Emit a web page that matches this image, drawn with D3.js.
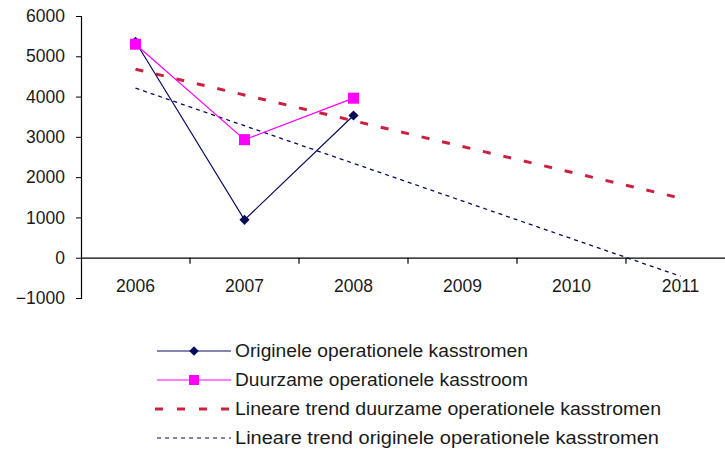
<!DOCTYPE html>
<html>
<head>
<meta charset="utf-8">
<script src="https://cdn.jsdelivr.net/npm/d3@7"></script>
<style>
  html, body { margin: 0; padding: 0; background: #fff; }
  svg { display: block; font-family: "Liberation Sans", Arial, sans-serif; }
</style>
</head>
<body>
<svg id="chart" width="725" height="462"></svg>
<script>
const categories = ["2006", "2007", "2008", "2009", "2010", "2011"];
const originele = [5360, 940, 3530];
const duurzame = [5300, 2930, 3960];
const trendDuurzame = [4680, 1480];   // at 2006 and 2011
const trendOriginele = [4210, -460];  // at 2006 and 2011
const yTicks = [-1000, 0, 1000, 2000, 3000, 4000, 5000, 6000];
const seriesNames = [
  "Originele operationele kasstromen",
  "Duurzame operationele kasstroom",
  "Lineare trend duurzame operationele kasstromen",
  "Lineare trend originele operationele kasstromen"
];

(function () {
const svg = d3.select("#chart");
const mLeft = 81, mRight = 735, mTop = 16, mBottom = 298;

const x = d3.scaleBand().domain(categories).range([mLeft, mRight]).paddingInner(0).paddingOuter(0);
const y = d3.scaleLinear().domain([-1000, 6000]).range([mBottom, mTop]);
const cx = c => x(c) + x.bandwidth() / 2;

const navy = "#0a0a5a";
const magenta = "#ff00ff";
const red = "#cc2040";
const font = "'Liberation Sans', Arial, sans-serif";
const fs = 17.5;

// Y axis
const yAxis = svg.append("g").attr("transform", `translate(${mLeft},0)`)
  .call(d3.axisLeft(y).tickValues(yTicks).tickSize(5).tickPadding(11).tickFormat(d3.format("d")));
yAxis.selectAll("path").attr("stroke", "#000").attr("stroke-width", 1.2);
yAxis.selectAll("line").attr("stroke", "#000");
yAxis.selectAll("text").attr("font-size", fs).attr("fill", "#1a1a1a").attr("font-family", font);

// X axis at zero
const xAxis = svg.append("g").attr("transform", `translate(0,${y(0)})`)
  .call(d3.axisBottom(x).tickSize(0).tickPadding(22));
xAxis.select("path").attr("stroke", "#000").attr("stroke-width", 1.2);
xAxis.selectAll("text").attr("font-size", fs).attr("fill", "#1a1a1a").attr("font-family", font);
svg.append("g").selectAll("line").data(categories.slice(1)).join("line")
  .attr("x1", d => x(d)).attr("x2", d => x(d))
  .attr("y1", y(0)).attr("y2", y(0) + 6)
  .attr("stroke", "#000").attr("stroke-width", 1.2);

const line = d3.line().x(d => cx(d.c)).y(d => y(d.v));

// Trend lines
const tD = [{c: categories[0], v: trendDuurzame[0]}, {c: categories[5], v: trendDuurzame[1]}];
const tO = [{c: categories[0], v: trendOriginele[0]}, {c: categories[5], v: trendOriginele[1]}];
svg.append("path").datum(tD).attr("d", line).attr("fill", "none")
  .attr("stroke", red).attr("stroke-width", 3).attr("stroke-dasharray", "8,13");
svg.append("path").datum(tO).attr("d", line).attr("fill", "none")
  .attr("stroke", navy).attr("stroke-width", 1.3).attr("stroke-dasharray", "4,4");

// Data series
const oData = originele.map((v, i) => ({c: categories[i], v}));
const dData = duurzame.map((v, i) => ({c: categories[i], v}));
svg.append("path").datum(oData).attr("d", line).attr("fill", "none")
  .attr("stroke", navy).attr("stroke-width", 1.2);
svg.append("path").datum(dData).attr("d", line).attr("fill", "none")
  .attr("stroke", magenta).attr("stroke-width", 1.2);

svg.append("g").selectAll("path").data(oData).join("path")
  .attr("d", d3.symbol().type(d3.symbolSquare).size(52))
  .attr("transform", d => `translate(${cx(d.c)},${y(d.v)}) rotate(45)`)
  .attr("fill", navy);
svg.append("g").selectAll("rect").data(dData).join("rect")
  .attr("x", d => cx(d.c) - 5.5).attr("y", d => y(d.v) - 5.5)
  .attr("width", 11).attr("height", 11).attr("fill", magenta);

// Legend
const legY = [351, 380, 409, 438];
const legW = [293, 293, 426, 424];
const lx1 = 157, lx2 = 231, tx = 235;
const leg = svg.append("g");
seriesNames.forEach((name, i) => {
  const yy = legY[i];
  const g = leg.append("g");
  if (i === 0) {
    g.append("line").attr("x1", lx1).attr("x2", lx2).attr("y1", yy).attr("y2", yy)
      .attr("stroke", navy).attr("stroke-width", 1.2);
    g.append("path").attr("d", d3.symbol().type(d3.symbolSquare).size(45)())
      .attr("transform", `translate(${(lx1 + lx2) / 2},${yy}) rotate(45)`).attr("fill", navy);
  } else if (i === 1) {
    g.append("line").attr("x1", lx1).attr("x2", lx2).attr("y1", yy).attr("y2", yy)
      .attr("stroke", magenta).attr("stroke-width", 1.2);
    g.append("rect").attr("x", (lx1 + lx2) / 2 - 5).attr("y", yy - 5)
      .attr("width", 10).attr("height", 10).attr("fill", magenta);
  } else if (i === 2) {
    g.append("line").attr("x1", lx1 - 2).attr("x2", lx2).attr("y1", yy).attr("y2", yy)
      .attr("stroke", red).attr("stroke-width", 3).attr("stroke-dasharray", "8,14");
  } else {
    g.append("line").attr("x1", lx1).attr("x2", lx2).attr("y1", yy).attr("y2", yy)
      .attr("stroke", navy).attr("stroke-width", 1.2).attr("stroke-dasharray", "4,4");
  }
  g.append("text").attr("x", tx).attr("y", yy).attr("dy", "0.35em")
    .attr("font-size", fs).attr("fill", "#1a1a1a").attr("font-family", font)
    .attr("textLength", legW[i]).attr("lengthAdjust", "spacingAndGlyphs")
    .text(name);
});
})();
</script>
</body>
</html>
